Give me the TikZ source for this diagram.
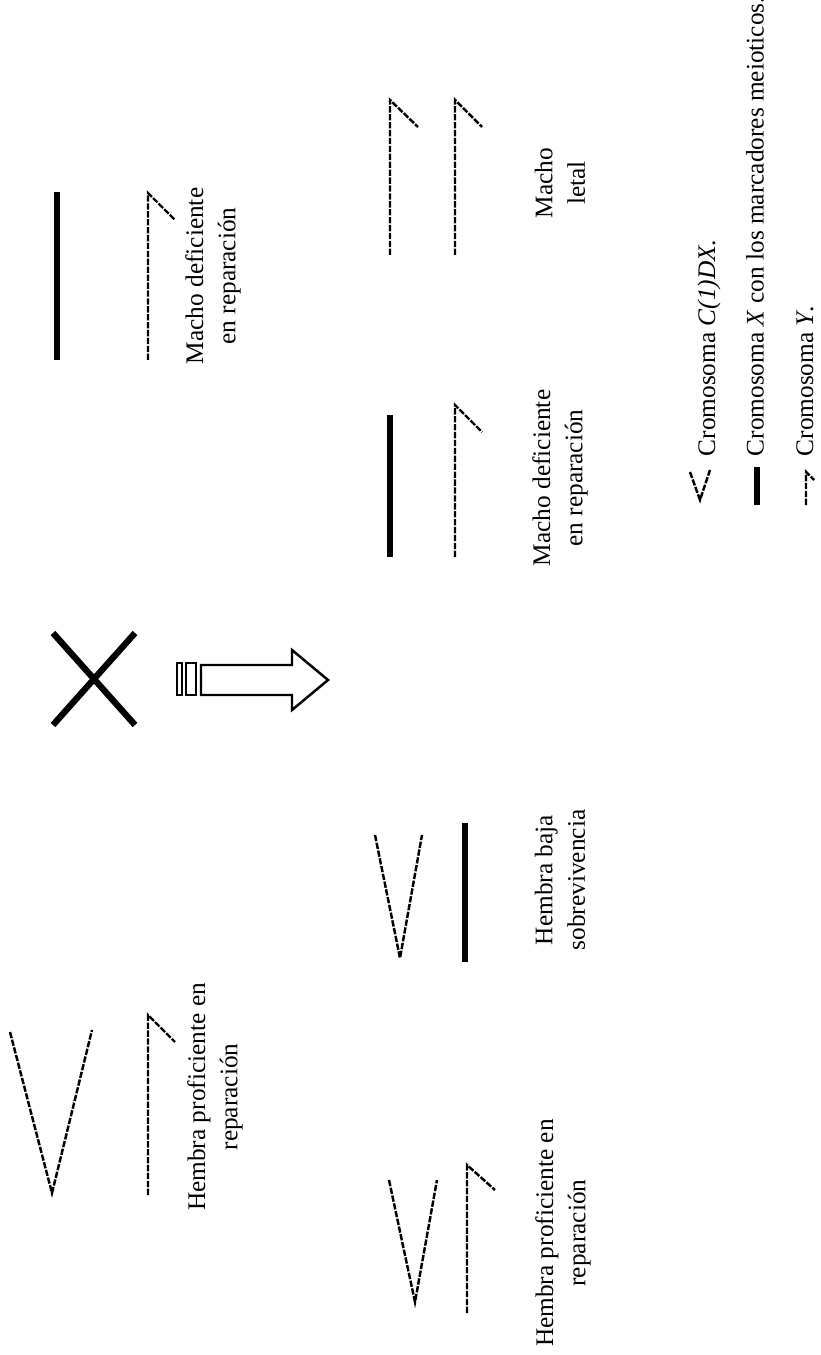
\documentclass[tikz,border=0pt]{standalone}
\usepackage{fontspec}
\setmainfont{Liberation Serif}
\begin{document}
\begin{tikzpicture}[x=0.01cm, y=-0.01cm,
			xchrom/.style={line width=1.5pt, black},
			dchrom/.style={line width=0.7pt, black, dash pattern=on 1.8pt off 0.45pt},
			crossline/.style={line width=1.8pt, black},
			hollow/.style={line width=0.7pt, black},
			chromlabel/.style={rotate=90, align=center, inner sep=0pt, font=\fontsize{7.2}{9.2}\selectfont},
			legendtext/.style={rotate=90, anchor=west, inner sep=0pt, font=\fontsize{7.2}{9.2}\selectfont}
			]
			\useasboundingbox (0,0) rectangle (820,1355);
			% padres
			\draw[xchrom] (57,192) -- (57,360);
			\draw[dchrom] (148,360) -- (148,193) -- (175,220);
			\node[chromlabel] (pmale) at (213,276) {Macho deficiente\\en reparación};
			\draw[dchrom] (10,1032) -- (52,1193) -- (92,1030);
			\draw[dchrom] (148,1195) -- (148,1015) -- (175,1042);
			\node[chromlabel] (pfemale) at (215,1097) {Hembra proficiente en\\reparación};
			% cruce
			\draw[crossline] (53,633) -- (135,725) (135,633) -- (53,725);
			\draw[hollow] (177,663) rectangle (182,695) (186,663) rectangle (196,695);
			\draw[hollow] (201,665) -- (292,665) -- (292,650) -- (328,680) -- (292,710) -- (292,695) -- (201,695) -- cycle;
			% descendencia
			\draw[dchrom] (390,255) -- (390,100) -- (418,127);
			\draw[dchrom] (455,255) -- (455,100) -- (482,127);
			\node[chromlabel] (letal) at (560,183) {Macho\\letal};
			\draw[xchrom] (390,415) -- (390,557);
			\draw[dchrom] (455,557) -- (455,405) -- (482,432);
			\node[chromlabel] (cmale) at (560,478) {Macho deficiente\\en reparación};
			\draw[dchrom] (375,835) -- (400,958) -- (422,835);
			\draw[xchrom] (465,823) -- (465,962);
			\node[chromlabel] (baja) at (560,880) {Hembra baja\\sobrevivencia};
			\draw[dchrom] (389,1180) -- (415,1302) -- (437,1180);
			\draw[dchrom] (467,1313) -- (467,1165) -- (495,1190);
			\node[chromlabel] (cfemale) at (563,1233) {Hembra proficiente en\\reparación};
			% leyenda
			\draw[dchrom] (690,472) -- (700,500) -- (710,470);
			\node[legendtext] (ley1) at (709,457) {Cromosoma \textit{C(1)DX}.};
			\draw[xchrom] (757,467) -- (757,505);
			\node[legendtext] (ley2) at (755,457) {Cromosoma \textit{X} con los marcadores meioticos.};
			\draw[dchrom] (806,505) -- (806,472) -- (814,480);
			\node[legendtext] (ley3) at (805,457) {Cromosoma \textit{Y}.};
		\end{tikzpicture}
\end{document}
